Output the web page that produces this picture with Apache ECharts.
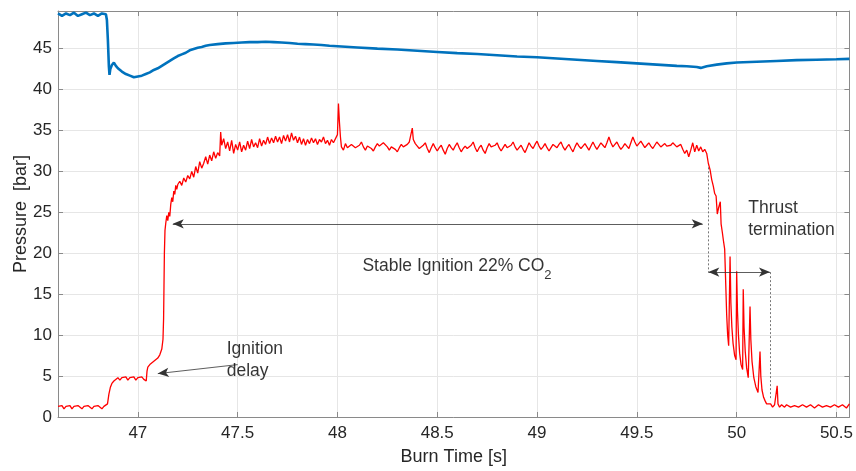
<!DOCTYPE html>
<html>
<head>
<meta charset="utf-8">
<script src="https://cdn.jsdelivr.net/npm/echarts@6/dist/echarts.min.js"></script>
<style>html,body{margin:0;padding:0;background:#fff}#c{width:856px;height:471px}</style>
</head>
<body>
<div id="c"></div>
<script>
// ---- axis ticks ----
var xTicks = [47, 47.5, 48, 48.5, 49, 49.5, 50, 50.5];
var yTicks = [0, 5, 10, 15, 20, 25, 30, 35, 40, 45];
var xRange = [46.6, 50.565];
var yRange = [0, 49.6];

// ---- blue (upper) pressure trace: [time, bar] ----
var bluePressure = [
 [46.60,49.3],[46.62,49.0],[46.64,49.3],[46.66,49.1],[46.68,49.4],[46.70,49.0],[46.72,49.2],[46.74,49.4],
 [46.76,49.1],[46.78,49.3],[46.80,49.0],[46.82,49.3],[46.84,49.2],[46.845,48.5],[46.85,46.0],[46.855,42.8],
 [46.858,41.8],[46.862,42.5],[46.87,43.0],[46.88,43.3],[46.89,42.9],[46.90,42.6],[46.92,42.2],[46.94,41.9],
 [46.96,41.7],[46.98,41.5],[47.00,41.6],[47.02,41.7],[47.04,41.9],[47.06,42.1],[47.08,42.4],[47.10,42.6],
 [47.12,42.9],[47.14,43.2],[47.16,43.5],[47.18,43.8],[47.20,44.1],[47.22,44.3],[47.24,44.5],[47.26,44.8],
 [47.28,44.95],[47.30,45.1],[47.32,45.2],[47.34,45.35],[47.36,45.45],[47.40,45.55],[47.44,45.65],[47.48,45.7],
 [47.52,45.75],[47.56,45.8],[47.60,45.8],[47.64,45.85],[47.68,45.8],[47.72,45.75],[47.76,45.7],[47.80,45.6],
 [47.84,45.55],[47.88,45.5],[47.92,45.45],[47.96,45.35],[48.00,45.3],[48.10,45.15],[48.20,45.0],[48.30,44.9],
 [48.40,44.75],[48.50,44.6],[48.60,44.45],[48.70,44.35],[48.80,44.2],[48.90,44.05],[49.00,43.95],[49.10,43.8],
 [49.20,43.65],[49.30,43.5],[49.40,43.35],[49.50,43.2],[49.60,43.05],[49.70,42.9],[49.75,42.85],[49.80,42.75],
 [49.82,42.65],[49.85,42.85],[49.90,43.05],[49.95,43.2],[50.00,43.3],[50.10,43.4],[50.20,43.5],[50.30,43.6],
 [50.40,43.65],[50.50,43.7],[50.565,43.75]
];

// ---- red (chamber) pressure trace: [time, bar] ----
var redStartup = [
 [46.60,1.3],[46.61,1.1],[46.62,1.4],[46.63,1.0],[46.64,1.3],[46.65,1.2],[46.66,1.4],[46.67,1.0],[46.68,1.3],
 [46.69,1.1],[46.70,1.4],[46.71,1.2],[46.72,1.0],[46.73,1.3],[46.74,1.1],[46.75,1.4],[46.76,1.2],[46.77,1.0],
 [46.78,1.3],[46.79,1.1],[46.80,1.4],[46.81,1.2],[46.82,1.0],[46.83,1.3],[46.84,1.2],[46.848,1.6],[46.855,2.8],
 [46.862,3.6],[46.87,4.1],[46.88,4.4],[46.89,4.5],[46.90,4.8],[46.91,4.5],[46.92,4.8],[46.93,4.6],[46.94,4.9],
 [46.95,4.5],[46.96,4.8],[46.97,4.6],[46.98,4.9],[46.99,4.5],[47.00,4.8],[47.01,4.6],[47.02,4.9],[47.03,4.6],
 [47.038,4.8],[47.042,4.4],[47.046,5.6],[47.05,6.1],[47.06,6.4],[47.07,6.3],[47.08,6.8],[47.09,6.9],[47.10,7.2],
 [47.11,7.6],[47.12,8.3],[47.126,9.5],[47.129,12],[47.131,16],[47.133,20],[47.136,22.8],[47.14,23.7],[47.145,24.6],
 [47.15,24.0],[47.155,25.0],[47.16,24.5],[47.165,26.0],[47.17,26.8],[47.175,26.3],[47.18,27.6],[47.185,27.2],
 [47.19,28.3],[47.195,27.8],[47.20,28.4],[47.21,28.8],[47.22,28.3],[47.23,29.2],[47.24,28.7],[47.25,29.5],[47.26,29.1],
 [47.27,30.0],[47.28,29.3],[47.29,30.6],[47.30,29.8],[47.31,31.2],[47.32,30.4],[47.33,31.0],[47.34,31.8],
 [47.35,30.9],[47.36,32.0],[47.37,31.3],[47.38,32.4],[47.39,31.6],[47.40,32.3],[47.41,31.9],[47.415,34.8],
 [47.42,33.2],[47.43,34.0],[47.44,32.8],[47.45,33.6],[47.46,32.5],[47.47,33.8],[47.48,32.2],[47.49,33.3],
 [47.50,32.6],[47.51,33.6],[47.52,32.4],[47.53,33.2],[47.54,32.6],[47.55,33.7],[47.56,32.8],[47.57,33.9],
 [47.58,33.0],[47.59,33.5],[47.60,32.9],[47.61,34.0],[47.62,33.1],[47.63,33.8],[47.64,33.3],[47.65,34.2],
 [47.66,33.4],[47.67,34.1],[47.68,33.5],[47.69,34.3],[47.70,33.6],[47.71,34.2],[47.72,33.4],[47.73,34.4],
 [47.74,33.7],[47.75,34.5],[47.76,33.6],[47.77,34.7],[47.78,33.8],[47.79,34.3],[47.80,33.5],[47.81,34.2],
 [47.82,33.3],[47.83,34.0],[47.84,33.2],[47.85,33.9],[47.86,33.4],[47.87,34.1],[47.88,33.5],[47.89,34.0],
 [47.90,33.3],[47.91,33.9],[47.92,33.6],[47.93,34.2],[47.94,33.4],[47.95,33.8],[47.96,33.2],[47.97,33.9],
 [47.98,33.5],[47.99,33.3],[48.00,34.5],[48.005,38.3],[48.01,36.0],[48.015,34.2],[48.02,33.0],[48.03,32.6]
];
var redStable = [
 [48.04,33.4],[48.05,32.9],[48.06,32.7],[48.07,33.3],[48.08,33.5],[48.09,32.9],[48.10,32.8],[48.11,33.2],
 [48.12,33.6],[48.13,33.0],[48.14,32.6],[48.15,33.1],[48.16,33.3],[48.17,32.8],[48.18,32.5],[48.19,33.0],
 [48.20,33.4],[48.21,33.1],[48.22,32.9],[48.23,33.5],[48.24,33.7],[48.25,33.0],[48.26,32.6],[48.27,33.0],
 [48.28,33.2],[48.29,32.7],[48.30,32.4],[48.31,32.9],[48.32,33.3],[48.33,33.0],[48.34,32.8],[48.35,33.3],
 [48.36,33.6],[48.37,33.4],[48.375,35.3],[48.38,33.9],[48.39,33.4],[48.40,33.1],[48.41,32.8],[48.42,32.6],
 [48.43,33.2],[48.44,33.5],[48.45,32.8],[48.46,32.3],[48.47,32.9],[48.48,33.4],[48.49,32.9],[48.50,32.5],
 [48.51,32.9],[48.52,33.2],[48.53,32.6],[48.54,32.1],[48.55,32.8],[48.56,33.3],[48.57,32.9],[48.58,32.6],
 [48.59,33.1],[48.60,33.5],[48.61,32.9],[48.62,32.4],[48.63,32.8],[48.64,33.1],[48.65,32.8],[48.66,32.7],
 [48.67,33.2],[48.68,33.6],[48.69,32.9],[48.70,32.4],[48.71,32.9],[48.72,33.2],[48.73,32.6],[48.74,32.2],
 [48.75,32.9],[48.76,33.4],[48.77,33.0],[48.78,32.8],[48.79,33.2],[48.80,33.5],[48.81,32.9],[48.82,32.5],
 [48.83,32.9],[48.84,33.3],[48.85,32.9],[48.86,32.7],[48.87,33.2],[48.88,33.6],[48.89,33.0],[48.90,32.6],
 [48.91,32.9],[48.92,33.2],[48.93,32.7],[48.94,32.3],[48.95,32.9],[48.96,33.5],[48.97,33.1],[48.98,32.8],
 [48.99,33.3],[49.00,33.7],[49.01,33.1],[49.02,32.7],[49.03,33.0],[49.04,33.4],[49.05,32.9],[49.06,32.5],
 [49.07,32.9],[49.08,33.3],[49.09,33.1],[49.10,32.9],[49.11,33.3],[49.12,33.6],[49.13,33.0],[49.14,32.6],
 [49.15,33.0],[49.16,33.3],[49.17,32.8],[49.18,32.4],[49.19,33.0],[49.20,33.5],[49.21,33.1],[49.22,32.8],
 [49.23,33.1],[49.24,33.4],[49.25,33.0],[49.26,32.6],[49.27,33.1],[49.28,33.6],[49.29,33.1],[49.30,32.7],
 [49.31,33.1],[49.32,33.5],[49.33,33.2],[49.34,32.9],[49.35,33.5],[49.36,34.2],[49.37,33.5],[49.38,33.0],
 [49.39,33.3],[49.40,33.6],[49.41,33.1],[49.42,32.7],[49.43,33.0],[49.44,33.4],[49.45,33.1],[49.46,32.8],
 [49.47,33.5],[49.48,34.2],[49.49,33.6],[49.50,33.1],[49.51,33.4],[49.52,33.7],[49.53,33.3],[49.54,32.9],
 [49.55,33.2],[49.56,33.5],[49.57,33.1],[49.58,32.8],[49.59,33.2],[49.60,33.6],[49.61,33.3],[49.62,33.0],
 [49.63,33.2],[49.64,33.4],[49.65,33.1],[49.66,32.9],[49.67,33.2],[49.68,33.5],[49.69,33.3],[49.70,33.0],
 [49.71,33.2],[49.72,33.3],[49.73,32.7],[49.74,32.2],[49.75,32.6],[49.76,31.8],[49.77,32.6],[49.78,33.5],
 [49.79,32.4],[49.80,33.2],[49.81,32.5],[49.82,33.0],[49.83,32.4],[49.84,32.7],[49.85,32.2]
];
var redShutdown = [
 [49.858,31.0],[49.867,30.2],[49.875,29.0],[49.883,28.2],[49.89,27.3],[49.897,27.0],[49.903,24.8],[49.91,25.6],
 [49.918,26.3],[49.922,23.6],[49.928,22.6],[49.934,21.5],[49.94,20.5],[49.945,16.5],[49.95,12.5],[49.955,10.0],
 [49.96,8.7],[49.964,8.8],[49.967,19.6],[49.971,14.0],[49.976,11.0],[49.982,9.0],[49.99,7.5],[49.997,7.0],
 [50.0,17.8],[50.004,13.0],[50.009,10.0],[50.015,7.8],[50.022,6.4],[50.03,5.8],[50.033,15.6],[50.037,11.0],
 [50.043,8.0],[50.05,6.0],[50.058,4.8],[50.063,4.7],[50.067,13.5],[50.071,9.5],[50.077,6.8],[50.086,4.8],
 [50.096,3.7],[50.107,3.0],[50.113,2.8],[50.117,8.0],[50.121,5.0],[50.127,3.3],[50.135,2.4],[50.142,2.0],
 [50.15,1.6],[50.16,1.4],[50.17,1.6],[50.18,1.2],[50.19,1.5],[50.20,1.3],[50.203,3.8],[50.207,1.6],
 [50.215,1.2],[50.225,1.5],[50.24,1.2],[50.25,1.5],[50.26,1.6],[50.27,1.2],[50.28,1.1],[50.29,1.4],[50.30,1.5],
 [50.31,1.2],[50.32,1.2],[50.33,1.5],[50.34,1.6],[50.35,1.2],[50.36,1.1],[50.37,1.5],[50.38,1.4],[50.39,1.1],
 [50.40,1.2],[50.41,1.5],[50.42,1.6],[50.43,1.2],[50.44,1.1],[50.45,1.4],[50.46,1.5],[50.47,1.2],[50.48,1.2],
 [50.49,1.5],[50.50,1.6],[50.51,1.2],[50.52,1.1],[50.53,1.5],[50.54,1.4],[50.55,1.1],[50.56,1.2],[50.565,1.6]
];

// ---- annotations (data coordinates) ----
var stableArrow = [[47.175, 23.6], [49.83, 23.6]];
var thrustArrow = [[49.858, 17.7], [50.167, 17.7]];
var dottedLeft = [[49.858, 30.5], [49.858, 17.7]];
var dottedRight = [[50.167, 17.7], [50.167, 2.1]];
var delayArrow = [[47.5, 6.4], [47.1, 5.3]];
var textIgnition = [47.44, 6.9];
var textThrust = [50.053, 24.2];
var textStable = [48.12, 18.44];

var tickColor = '#262626';
var axisGray = '#8a8a8a';
var gridGray = '#e6e6e6';
var font = "'Liberation Sans', Arial, Helvetica, sans-serif";

function mkX(pos, show) {
  return {
    type: 'value', position: pos, min: xRange[0], max: xRange[1],
    axisLine: { show: true, onZero: false, lineStyle: { color: axisGray, width: 1 } },
    axisTick: { show: true, inside: true, length: 5, customValues: xTicks, lineStyle: { color: axisGray } },
    axisLabel: { show: show, customValues: xTicks, color: tickColor, fontSize: 17, fontFamily: font, margin: 8 },
    splitLine: { show: show, lineStyle: { color: gridGray, width: 1 } },
    name: show ? 'Burn Time [s]' : '', nameLocation: 'middle', nameGap: 31, nameMoveOverlap: false,
    nameTextStyle: { color: tickColor, fontSize: 18, fontFamily: font }
  };
}
function mkY(pos, show) {
  return {
    type: 'value', position: pos, min: yRange[0], max: yRange[1],
    axisLine: { show: true, onZero: false, lineStyle: { color: axisGray, width: 1 } },
    axisTick: { show: true, inside: true, length: 5, customValues: yTicks, lineStyle: { color: axisGray } },
    axisLabel: { show: show, customValues: yTicks, color: tickColor, fontSize: 17, fontFamily: font, margin: 6 },
    splitLine: { show: show, lineStyle: { color: gridGray, width: 1 } },
    name: show ? 'Pressure  [bar]' : '', nameLocation: 'middle', nameGap: 28, nameRotate: 90, nameMoveOverlap: false,
    nameTextStyle: { color: tickColor, fontSize: 18, fontFamily: font }
  };
}

function seg(a, b, symA, symB, dotted) {
  return [
    { coord: a, symbol: symA, lineStyle: dotted ? { type: [2, 2], color: '#555', width: 0.8 } : undefined },
    { coord: b, symbol: symB }
  ];
}

function textPoint(pos, txt) {
  return { value: pos, label: { formatter: txt } };
}

var chart = echarts.init(document.getElementById('c'), null, { renderer: 'canvas' });
chart.setOption({
  animation: false,
  backgroundColor: '#fff',
  grid: { left: 58, right: 6, top: 11, bottom: 53, containLabel: false },
  xAxis: [mkX('bottom', true), mkX('top', false)],
  yAxis: [mkY('left', true), mkY('right', false)],
  series: [
    { type: 'line', data: bluePressure, showSymbol: false, symbol: 'none', sampling: null,
      lineStyle: { color: '#0072BD', width: 2.6 }, z: 3 },
    { type: 'line', data: redStartup.concat(redStable, redShutdown), showSymbol: false, symbol: 'none',
      lineStyle: { color: '#FF0000', width: 1.3 }, z: 3 },
    { type: 'line', data: [], z: 5, silent: true,
      markLine: {
        silent: true, animation: false, symbolSize: [7, 11], label: { show: false },
        lineStyle: { color: '#333', width: 0.8, type: 'solid' },
        emphasis: { disabled: true },
        data: [
          seg(stableArrow[0], stableArrow[1], 'arrow', 'arrow', false),
          seg(thrustArrow[0], thrustArrow[1], 'arrow', 'arrow', false),
          seg(dottedLeft[0], dottedLeft[1], 'none', 'none', true),
          seg(dottedRight[0], dottedRight[1], 'none', 'none', true),
          seg(delayArrow[0], delayArrow[1], 'none', 'arrow', false)
        ]
      }
    },
    { type: 'scatter', symbolSize: 2, itemStyle: { color: 'rgba(0,0,0,0)' }, z: 6, silent: true,
      label: {
        show: true, position: 'right', distance: 0, color: '#000', fontSize: 17.5, fontFamily: font,
        lineHeight: 22,
        rich: {
          sub: { fontSize: 13, lineHeight: 13, verticalAlign: 'bottom', color: '#000', fontFamily: font }
        }
      },
      data: [
        textPoint(textIgnition, 'Ignition\ndelay'),
        textPoint(textThrust, 'Thrust\ntermination'),
        { value: textStable, label: { formatter: 'Stable Ignition 22% CO{sub|2}', lineHeight: 32 } }
      ]
    }
  ]
});
</script>
</body>
</html>
